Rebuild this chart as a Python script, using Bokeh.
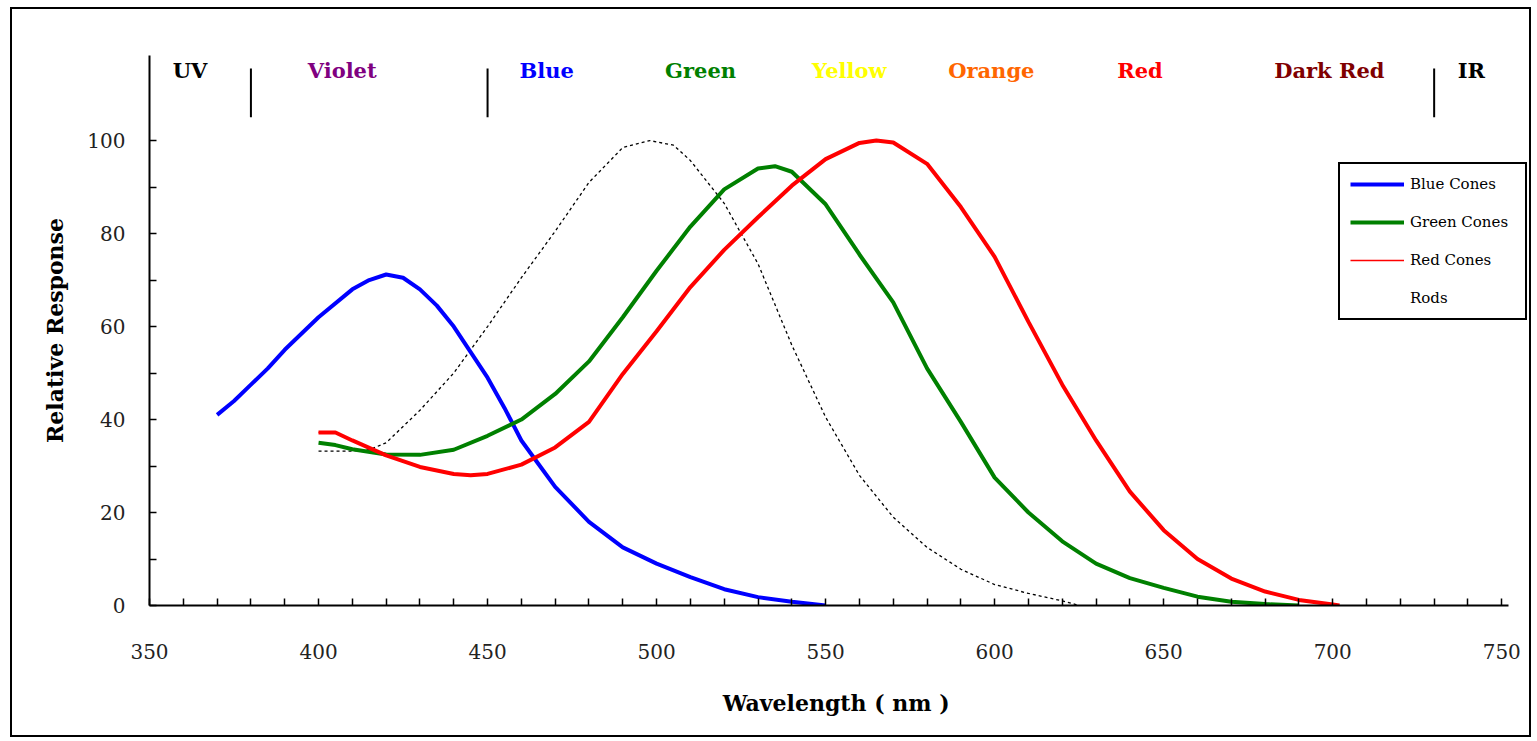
from bokeh.plotting import figure
from bokeh.models import Range1d, FixedTicker, Legend, LegendItem
from bokeh.core.properties import value
from bokeh.embed import file_html
from bokeh.resources import INLINE

# ---- data ----
blue_nm = [370, 375, 380, 385, 390, 400, 410, 415, 420, 425, 430, 435, 440, 445, 450,
           455, 460, 465, 470, 480, 490, 500, 510, 520, 530, 540, 550]
blue_val = [41, 44, 47.5, 51, 55, 62, 68, 70, 71.2, 70.5, 68, 64.5, 60, 54.5, 49,
            42.5, 35.5, 30.5, 25.5, 18, 12.5, 9, 6.1, 3.5, 1.8, 0.8, 0]

green_nm = [400, 405, 410, 420, 430, 440, 450, 460, 470, 480, 490, 500, 510, 520, 530,
            535, 540, 550, 560, 570, 580, 590, 600, 610, 620, 630, 640, 650, 660, 670,
            680, 690]
green_val = [35, 34.5, 33.6, 32.5, 32.4, 33.5, 36.5, 40, 45.5, 52.5, 62, 72, 81.5, 89.5, 94,
             94.5, 93.3, 86.3, 75.5, 65.2, 51, 39.5, 27.5, 20, 13.8, 9, 5.9, 3.8, 1.9, 0.8,
             0.3, 0]

red_nm = [400, 405, 410, 420, 430, 440, 445, 450, 460, 470, 480, 490, 500, 510, 520,
          530, 540, 550, 560, 565, 570, 580, 590, 600, 610, 620, 630, 640, 650, 660,
          670, 680, 690, 700, 702]
red_val = [37.2, 37.2, 35.5, 32.3, 29.8, 28.3, 28, 28.3, 30.3, 34, 39.5, 49.8, 59, 68.5, 76.5,
           83.5, 90.3, 96, 99.5, 100, 99.6, 95, 85.7, 75, 61, 47.5, 35.5, 24.5, 16.2, 10,
           5.8, 3, 1.2, 0.2, 0]

rods_nm = [400, 405, 410, 415, 420, 430, 440, 450, 460, 470, 480, 490, 498, 505, 510,
           520, 530, 540, 550, 560, 570, 580, 590, 600, 610, 620, 625]
rods_val = [33.2, 33.2, 33.2, 33.5, 35, 42, 50, 60, 70.5, 80.5, 91, 98.5, 100, 99, 95.7,
            86.5, 73.5, 56, 40.5, 28, 19, 12.5, 7.8, 4.5, 2.6, 1, 0]

band_names = ["UV", "Violet", "Blue", "Green", "Yellow", "Orange", "Red", "Dark Red", "IR"]
band_x = [362, 407, 467.5, 513, 557, 599, 643, 699, 741]
band_colors = ["#000000", "#800080", "#0000FF", "#008000", "#FFFF00", "#FF6600",
               "#FF0000", "#800000", "#000000"]
band_y = 115

sep_x = [380, 450, 730]
sep_y0 = 105
sep_y1 = 115.5

x_ticks = [350, 400, 450, 500, 550, 600, 650, 700, 750]
x_minor = [v for v in range(360, 750, 10) if v % 50 != 0]
y_ticks = [0, 20, 40, 60, 80, 100]
y_minor = [10, 30, 50, 70, 90]

legend_labels = ["Blue Cones", "Green Cones", "Red Cones", "Rods"]

SERIF = "DejaVu Serif"

p = figure(width=1521, height=730,
           x_range=Range1d(350, 758.5), y_range=Range1d(0, 118.3),
           output_backend="svg", toolbar_location=None,
           min_border_left=137, min_border_right=3,
           min_border_top=46, min_border_bottom=134)
p.margin = (7, 0, 0, 10)
p.styles = {"border": "2px solid black"}
p.background_fill_color = "white"
p.border_fill_color = "white"
p.outline_line_color = None
p.xgrid.grid_line_color = None
p.ygrid.grid_line_color = None

# curves
r_rods = p.line(rods_nm, rods_val, line_color="black", line_width=1.3, line_dash="3 3")
r_blue = p.line(blue_nm, blue_val, line_color="#0000FF", line_width=4)
r_green = p.line(green_nm, green_val, line_color="#008000", line_width=4)
r_red = p.line(red_nm, red_val, line_color="#FF0000", line_width=4)
# thin overlays used only for the legend swatches (as in the reference legend)
r_red_thin = p.line(red_nm, red_val, line_color="#FF0000", line_width=1.5)
r_rods_leg = p.line(rods_nm, rods_val, line_color="black", line_alpha=0)

# band labels & separators
p.text(x=band_x, y=[band_y] * len(band_x), text=band_names,
       text_color=band_colors, text_align="center", text_baseline="middle",
       text_font=value(SERIF), text_font_style="bold", text_font_size="21px")
p.segment(x0=sep_x, y0=[sep_y0] * 3, x1=sep_x, y1=[sep_y1] * 3,
          line_color="black", line_width=2)

# axes
xa = p.xaxis[0]
xa.ticker = FixedTicker(ticks=x_ticks, minor_ticks=x_minor)
xa.axis_label = "Wavelength  ( nm )"
xa.bounds = (350, 752)
ya = p.yaxis[0]
ya.ticker = FixedTicker(ticks=y_ticks, minor_ticks=y_minor)
ya.axis_label = "Relative Response"
for ax in (xa, ya):
    ax.axis_line_color = "black"
    ax.axis_line_width = 2
    ax.major_tick_in = 7
    ax.major_tick_out = 0
    ax.minor_tick_in = 7
    ax.minor_tick_out = 0
    ax.major_tick_line_width = 1.5
    ax.minor_tick_line_width = 1.5
    ax.major_label_text_font = SERIF
    ax.major_label_text_font_size = "20px"
    ax.major_label_text_color = "#222222"
    ax.axis_label_text_font = SERIF
    ax.axis_label_text_font_style = "bold"
    ax.axis_label_text_font_size = "22px"
    ax.axis_label_text_color = "black"
xa.major_label_standoff = 38
xa.axis_label_standoff = 28
ya.major_label_standoff = 24
ya.axis_label_standoff = 16

legend = Legend(items=[LegendItem(label=legend_labels[0], renderers=[r_blue]),
                       LegendItem(label=legend_labels[1], renderers=[r_green]),
                       LegendItem(label=legend_labels[2], renderers=[r_red_thin]),
                       LegendItem(label=legend_labels[3], renderers=[r_rods_leg])],
                location=(1189, 285))
legend.border_line_color = "black"
legend.border_line_width = 2
legend.border_line_alpha = 1
legend.background_fill_color = "white"
legend.background_fill_alpha = 1
legend.glyph_width = 54
legend.glyph_height = 20
legend.label_height = 20
legend.label_width = 105
legend.spacing = 18
legend.padding = 10
legend.margin = 0
legend.label_standoff = 6
legend.label_text_font = SERIF
legend.label_text_font_size = "15px"
legend.label_text_color = "black"
p.add_layout(legend, "center")

open("out.html", "w").write(file_html(p, INLINE))
